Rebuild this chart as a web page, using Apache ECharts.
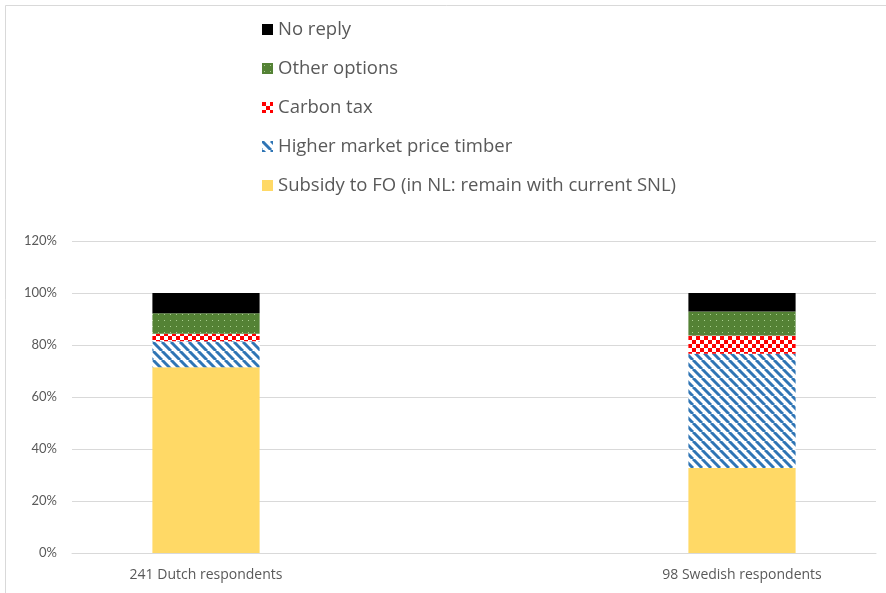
<!DOCTYPE html>
<html>
<head>
<meta charset="utf-8">
<script src="https://cdn.jsdelivr.net/npm/echarts@6/dist/echarts.min.js"></script>
<style>
  html, body { margin: 0; padding: 0; background: #fff; }
  #chart { width: 886px; height: 593px; }
</style>
</head>
<body>
<div id="chart"></div>
<script>
// Respondent groups (the empty middle slot keeps the two bars apart)
const categories = ['241 Dutch respondents', '', '98 Swedish respondents'];

// Shares of answers, in percent, per group
const subsidy     = [71.4, '-', 32.7];
const higherPrice = [10.0, '-', 43.9];
const carbonTax   = [2.9,  '-', 7.1];
const otherOpts   = [7.9,  '-', 9.2];
const noReply     = [7.8,  '-', 7.1];

const yTicks = { min: 0, max: 120, step: 20 };

// Tile fills for the patterned segments
function tile(w, h, draw) {
  const c = document.createElement('canvas');
  c.width = w; c.height = h;
  draw(c.getContext('2d'), w, h);
  return { image: c, repeat: 'repeat' };
}

const stripeFill = tile(9, 9, (g, w, h) => {
  g.fillStyle = '#ffffff';
  g.fillRect(0, 0, w, h);
  g.strokeStyle = '#2F75B5';
  g.lineWidth = 3;
  for (const k of [-w, 0, w]) {
    g.beginPath();
    g.moveTo(k, 0);
    g.lineTo(k + w, h);
    g.stroke();
  }
});

const checkFill = tile(8, 8, (g, w, h) => {
  g.fillStyle = '#ffffff';
  g.fillRect(0, 0, w, h);
  g.fillStyle = '#FF0000';
  g.fillRect(0, 0, 4, 4);
  g.fillRect(4, 4, 4, 4);
});

const dotFill = tile(6, 6, (g, w, h) => {
  g.fillStyle = '#548235';
  g.fillRect(0, 0, w, h);
  g.fillStyle = '#A9D08E';
  g.fillRect(2, 2, 1, 1);
});

const series = [
  { name: 'Subsidy to FO (in NL: remain with current SNL)', data: subsidy, color: '#FFD966' },
  { name: 'Higher market price timber', data: higherPrice, color: stripeFill },
  { name: 'Carbon tax', data: carbonTax, color: checkFill },
  { name: 'Other options', data: otherOpts, color: dotFill },
  { name: 'No reply', data: noReply, color: '#000000' }
].map(s => ({
  name: s.name,
  type: 'bar',
  stack: 'total',
  barWidth: '40%',
  data: s.data,
  itemStyle: { color: s.color },
  emphasis: { disabled: true }
}));

const textColor = '#595959';
const labelFont = '"Open Sans", Lato, sans-serif';
const tickFont = 'Lato, "Open Sans", sans-serif';

const chart = echarts.init(document.getElementById('chart'));
chart.setOption({
  animation: false,
  backgroundColor: '#ffffff',
  graphic: [{
    type: 'rect',
    shape: { x: 5.5, y: 5.5, width: 900, height: 600 },
    style: { fill: 'none', stroke: '#D9D9D9', lineWidth: 1 },
    silent: true
  }],
  legend: {
    orient: 'vertical',
    left: 257,
    top: 14,
    itemWidth: 11,
    itemHeight: 11,
    itemGap: 18,
    icon: 'rect',
    data: series.map(s => s.name).reverse(),
    textStyle: { color: textColor, fontSize: 18.5, lineHeight: 21, fontFamily: labelFont }
  },
  grid: { left: 72, right: 10, top: 241, bottom: 40, containLabel: false },
  xAxis: {
    type: 'category',
    data: categories,
    axisLine: { lineStyle: { color: '#D9D9D9' } },
    axisTick: { show: false },
    axisLabel: { color: textColor, fontSize: 14, margin: 15, fontFamily: labelFont, interval: 0 }
  },
  yAxis: {
    type: 'value',
    min: yTicks.min,
    max: yTicks.max,
    interval: yTicks.step,
    axisLine: { show: false },
    axisTick: { show: false },
    splitLine: { lineStyle: { color: '#D9D9D9' } },
    axisLabel: { color: textColor, fontSize: 13, margin: 15, fontFamily: tickFont, formatter: '{value}%' }
  },
  series: series
});
</script>
</body>
</html>
